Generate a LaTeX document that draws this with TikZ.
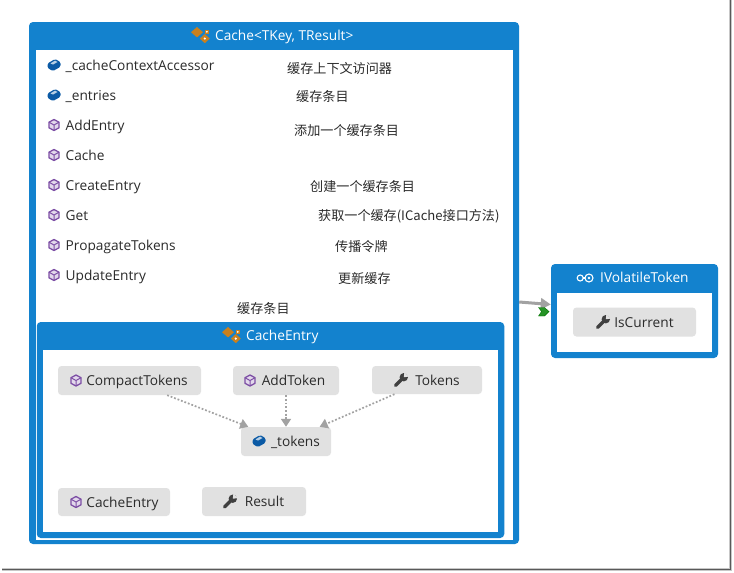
\documentclass[tikz,border=0pt]{standalone}
\usepackage{fontspec}
\setmainfont{Open Sans}
\newfontfamily\cjk{Noto Sans CJK SC}
\usetikzlibrary{arrows.meta}
\definecolor{vsblue}{HTML}{1382CE}
\definecolor{vsgray}{HTML}{E1E1E1}
\definecolor{txt}{HTML}{2B2B2B}
\definecolor{dep}{HTML}{A2A2A2}
\definecolor{cubec}{HTML}{7D4FA5}
\definecolor{brickc}{HTML}{0B5AA5}
\definecolor{classc}{HTML}{C9801E}
\tikzset{
  x=1pt,y=-1pt,
  frame box/.style={draw=none,fill=vsblue,rounded corners=4pt,inner sep=0pt},
  white box/.style={draw=none,fill=white,inner sep=0pt},
  member box/.style={fill=vsgray,rounded corners=3.5pt,inner sep=0pt,text=txt,text height=13pt,text depth=3pt,font=\fontsize{13.7}{14}\selectfont},
  title text/.style={text=white,inner sep=0pt,anchor=base west,font=\fontsize{13.7}{14}\selectfont},
  member text/.style={text=txt,inner sep=0pt,anchor=base west,font=\fontsize{13.7}{14}\selectfont},
  note text/.style={text=txt,inner sep=0pt,anchor=base west,font=\cjk\fontsize{13.1}{14}\selectfont},
  dep arrow/.style={draw=dep,line width=1.7pt,dash pattern=on 1.8pt off 1.9pt,-{Triangle[length=8pt,width=10pt,fill=dep,sep=0pt]}},
  cube/.pic={
    \fill[cubec!22] (0,-5.5)--(5,-2.8)--(5,2.8)--(0,5.5)--(-5,2.8)--(-5,-2.8)--cycle;
    \draw[cubec,line width=1.3pt,line join=round] (0,-5.5)--(5,-2.8)--(5,2.8)--(0,5.5)--(-5,2.8)--(-5,-2.8)--cycle;
    \draw[cubec,line width=1pt] (-5,-2.8)--(0,0)--(5,-2.8) (0,0)--(0,5.5);
  },
  brick/.pic={
    \fill[brickc,rounded corners=1.5pt] (-6.5,-1.5)--(1,-6)--(6.5,-3)--(6.5,1.8)--(-1,6)--(-6.5,3)--cycle;
    \fill[white!70!brickc] (-3.5,-1.6)--(1,-4.4)--(3.5,-3)--(-1,-.4)--cycle;
  },
  wrench/.pic={
    \draw[txt!90,line width=3.2pt,line cap=round] (-5.5,5.5)--(1.5,-1.5);
    \fill[txt!90] (2.8,-2.8) circle (4.2pt);
    \fill[vsgray] (2.8,-2.8)--(3.4,-8)--(8,-3.4)--cycle;
  },
  classicon/.pic={
    \fill[classc] (-4,-9)--(2,-3.8)--(-4,1.4)--(-10,-3.8)--cycle;
    \fill[classc] (3.8,-2)--(8.8,2.6)--(3.8,7.2)--(-1.2,2.6)--cycle;
    \fill[classc] (3.6,-6.5) rectangle (8,-1.8);
    \fill[white] (5.8,-4.2) circle (1pt) (3.8,2.6) circle (1.2pt);
  },
  ifaceicon/.pic={
    \draw[white,line width=1.1pt] (-4.8,0) circle (3pt) (4,0) circle (4pt);
    \draw[white,line width=1.1pt] (-1.8,0)--(0,0);
    \fill[white] (4,0) circle (1.3pt);
  },
}
\begin{document}
\begin{tikzpicture}
\useasboundingbox (0,0) rectangle (734,573);
\fill[white] (0,0) rectangle (734,573);
% screenshot edge
\coordinate (edgeTR) at (730.5,0);
\coordinate (edgeBR) at (730.5,569.5);
\coordinate (edgeBL) at (2,569.5);
\draw[black!22,line width=3.4pt] (edgeTR)--(edgeBR)--(edgeBL);
\draw[black!65,line width=1.5pt] (edgeTR)--(edgeBR)--(edgeBL);

% Cache
\node[frame box,minimum width=490pt,minimum height=522pt] (cache) at (274,283) {};
\node[white box,minimum width=477pt,minimum height=490pt] (cachein) at (274.5,295) {};
\node[title text] (cachet) at (215,40.7) {Cache<TKey, TResult>};
\pic at (201,36) {classicon};

\foreach \nm/\txt/\yy/\ic in {
  a/\_cacheContextAccessor/65/brick,
  b/\_entries/95/brick,
  c/AddEntry/125/cube,
  d/Cache/155/cube,
  e/CreateEntry/185/cube,
  f/Get/215/cube,
  g/PropagateTokens/245/cube,
  h/UpdateEntry/275/cube}{
  \node[member text] (m\nm) at (65.5,\yy+5) {\txt};
  \pic at (54,\yy) {\ic};
}
\node[note text] (n1) at (287,73) {缓存上下文访问器};
\node[note text] (n2) at (296,101) {缓存条目};
\node[note text] (n3) at (294,135) {添加一个缓存条目};
\node[note text] (n4) at (310,191) {创建一个缓存条目};
\node[note text] (n5) at (318,220) {获取一个缓存(ICache接口方法)};
\node[note text] (n6) at (335,251) {传播令牌};
\node[note text] (n7) at (338,283) {更新缓存};
\node[note text] (n8) at (237,313) {缓存条目};

% CacheEntry
\node[frame box,minimum width=467.5pt,minimum height=216pt] (entry) at (270.5,430) {};
\node[white box,minimum width=455pt,minimum height=182pt] (entryin) at (270.2,441) {};
\node[title text] (entryt) at (246,340.7) {CacheEntry};
\pic at (232,336) {classicon};

\node[member box,minimum width=143pt,minimum height=29pt] (compact) at (129.5,380.5) {\hspace*{15pt}CompactTokens};
\node[member box,minimum width=106pt,minimum height=29pt] (addtoken) at (286,380.5) {\hspace*{15pt}AddToken};
\node[member box,minimum width=110pt,minimum height=28pt] (tokensp) at (427,380) {\hspace*{21pt}Tokens};
\node[member box,minimum width=90pt,minimum height=29pt] (tokensf) at (286,441.5) {\hspace*{19pt}\_tokens};
\node[member box,minimum width=112pt,minimum height=28pt] (ctor) at (114,502) {\hspace*{17pt}CacheEntry};
\node[member box,minimum width=104pt,minimum height=29pt] (result) at (254,501.5) {\hspace*{21pt}Result};
\pic at (76,380.5) {cube};
\pic at (250,380.5) {cube};
\pic at (401,380) {wrench};
\pic at (259,441) {brick};
\pic at (76,502) {cube};
\pic at (230,501.5) {wrench};

\draw[dep arrow] (compact)--(tokensf);
\draw[dep arrow] (addtoken)--(tokensf);
\draw[dep arrow] (tokensp)--(tokensf);

% IVolatileToken
\node[frame box,minimum width=167pt,minimum height=94pt] (vol) at (634.5,311) {};
\node[white box,minimum width=155pt,minimum height=59pt] (volin) at (634.5,322.5) {};
\node[title text] (volt) at (600,282.7) {IVolatileToken};
\pic at (585,278) {ifaceicon};
\node[member box,minimum width=123pt,minimum height=29pt] (iscur) at (634.5,322) {\hspace*{19pt}IsCurrent};
\pic at (603,322) {wrench};

\draw[dep,line width=3pt,-{Triangle[length=10pt,width=11pt,fill=dep,sep=0pt]}] (cache)--(vol);
\fill[green!50!black!85!white,draw=black!55!green,line width=.4pt] (538.5,307.5)--(544.5,307.5)--(549,311.5)--(544.5,316)--(538.5,316)--(541.5,311.5)--cycle;
\end{tikzpicture}
\end{document}
